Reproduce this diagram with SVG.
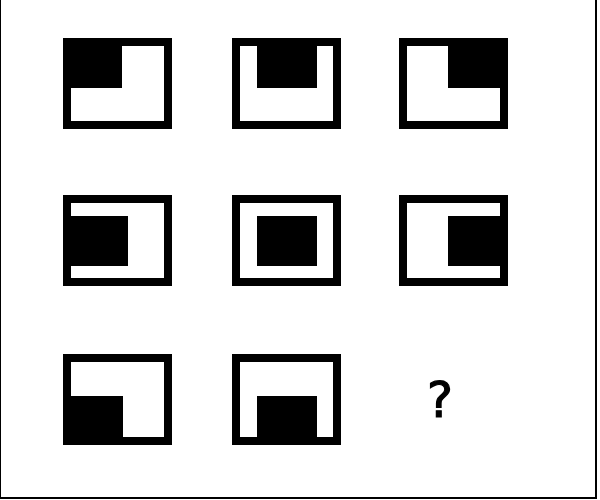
<svg xmlns="http://www.w3.org/2000/svg" width="600" height="500" viewBox="0 0 600 500">
<style>
.frame{fill:#fff;stroke:#000;stroke-width:8}
.blk{fill:#000}
.q{font-family:"DejaVu Sans","Liberation Sans",sans-serif;font-size:49px;fill:#000;stroke:#000;stroke-width:1.2;text-anchor:middle}
</style>
<rect x="0" y="0" width="600" height="500" fill="#fff"/>
<g id="border" fill="#000">
<rect x="0" y="0" width="1" height="499"/>
<rect x="595" y="0" width="2" height="499"/>
<rect x="0" y="497" width="597" height="2"/>
</g>
<g id="connectors"></g>
<g id="cell1" transform="translate(63,38)"><rect class="frame" x="4" y="4" width="101" height="83"/><rect class="blk" x="8" y="8" width="51" height="42"/></g>
<g id="cell2" transform="translate(232,38)"><rect class="frame" x="4" y="4" width="101" height="83"/><rect class="blk" x="25" y="8" width="60" height="42"/></g>
<g id="cell3" transform="translate(399,38)"><rect class="frame" x="4" y="4" width="101" height="83"/><rect class="blk" x="49" y="8" width="52" height="42"/></g>
<g id="cell4" transform="translate(63,195)"><rect class="frame" x="4" y="4" width="101" height="83"/><rect class="blk" x="8" y="21" width="57" height="50"/></g>
<g id="cell5" transform="translate(232,195)"><rect class="frame" x="4" y="4" width="101" height="83"/><rect class="blk" x="25" y="21" width="60" height="50"/></g>
<g id="cell6" transform="translate(399,195)"><rect class="frame" x="4" y="4" width="101" height="83"/><rect class="blk" x="49" y="21" width="52" height="50"/></g>
<g id="cell7" transform="translate(63,354)"><rect class="frame" x="4" y="4" width="101" height="83"/><rect class="blk" x="8" y="42" width="52" height="41"/></g>
<g id="cell8" transform="translate(232,354)"><rect class="frame" x="4" y="4" width="101" height="83"/><rect class="blk" x="25" y="42" width="60" height="41"/></g>
<g id="cell9"><text class="q" x="440" y="417">?</text></g>
</svg>
